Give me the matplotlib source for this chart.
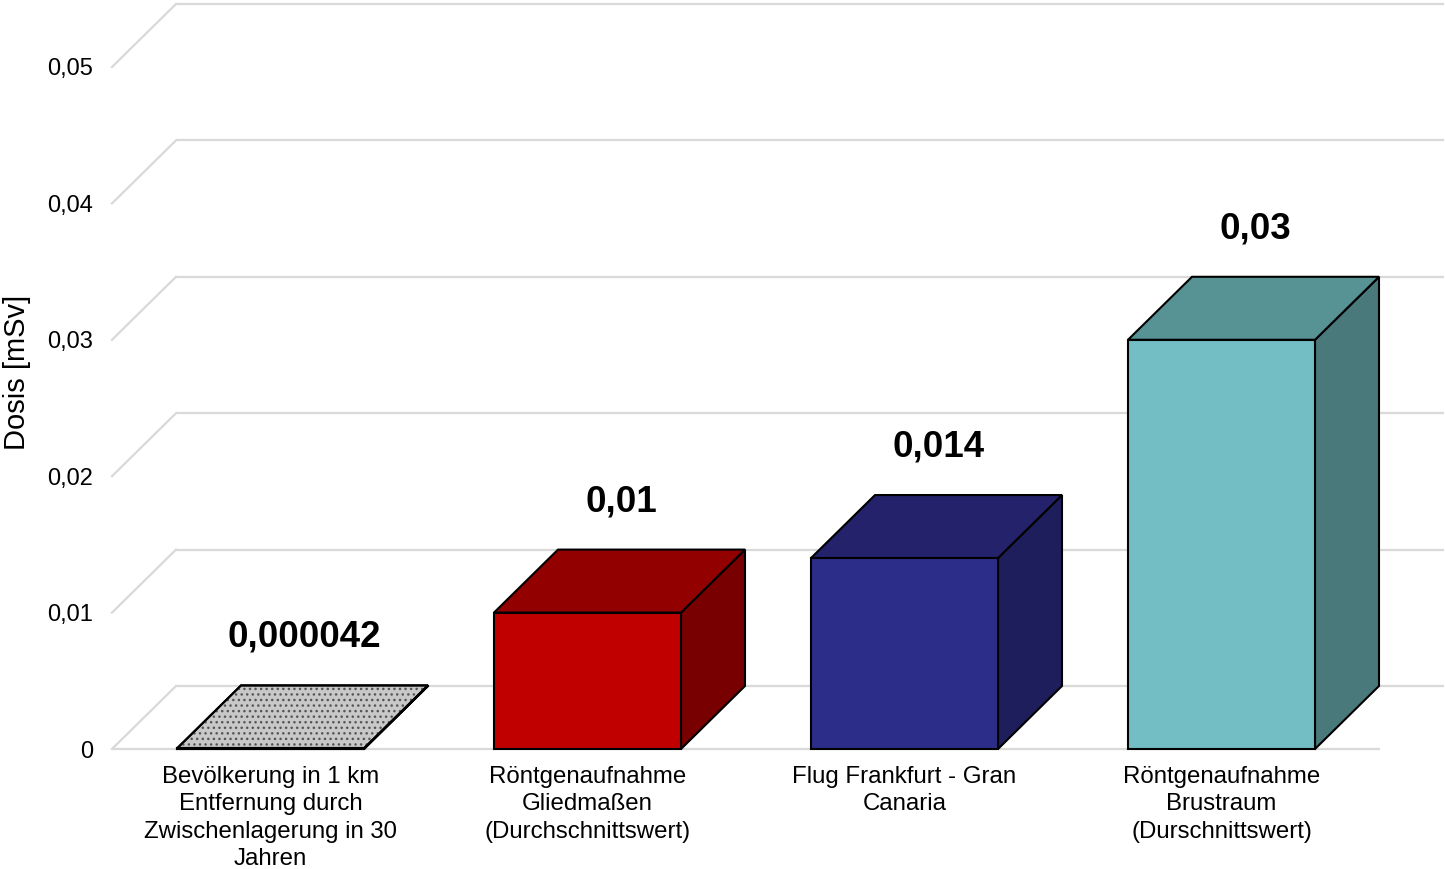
import matplotlib
matplotlib.use("Agg")
import matplotlib.pyplot as plt
from matplotlib.patches import Polygon

plt.rcParams['font.family'] = ['Liberation Sans', 'DejaVu Sans']

# Data
categories = [
    "Bevölkerung in 1 km\nEntfernung durch\nZwischenlagerung in 30\nJahren",
    "Röntgenaufnahme\nGliedmaßen\n(Durchschnittswert)",
    "Flug Frankfurt - Gran\nCanaria",
    "Röntgenaufnahme\nBrustraum\n(Durschnittswert)",
]
values = [0.000042, 0.01, 0.014, 0.03]
value_labels = ["0,000042", "0,01", "0,014", "0,03"]
y_ticks = [0, 0.01, 0.02, 0.03, 0.04, 0.05]
y_tick_labels = ["0", "0,01", "0,02", "0,03", "0,04", "0,05"]

# Face colours: front, top, side
face_colors = [
    ("#c8c8c8", "#c8c8c8", "#9a9a9a"),
    ("#c00000", "#930000", "#780000"),
    ("#2c2d88", "#23226a", "#1f1e5c"),
    ("#72bec4", "#579294", "#4a797b"),
]
hatched = [True, False, False, False]

W, H, DPI = 14.45, 8.69, 100
fig = plt.figure(figsize=(W, H), dpi=DPI)
ax = fig.add_axes([112 / 1445, 1 - 749 / 869, (1380 - 112) / 1445, (749 - 67) / 869])
ax.set_xlim(-0.5, len(categories) - 0.5)
ax.set_ylim(0, 0.05)
for s in ax.spines.values():
    s.set_visible(False)

# depth of the 3-D effect in pixels, converted to data units
depth_px = (64, 63)
x_per_px = (len(categories)) / ((1380 - 112))
y_per_px = 0.05 / (749 - 67)
ddx = depth_px[0] * x_per_px
ddy = depth_px[1] * y_per_px

grid_col = "#d9d9d9"
x_lo, x_hi = -0.5, len(categories) - 0.5
# back wall gridlines and left wall diagonals
for t in y_ticks:
    ax.plot([x_lo + ddx, x_hi + ddx], [t + ddy, t + ddy], color=grid_col, lw=1.6,
            clip_on=False, zorder=1, solid_capstyle='butt')
    ax.plot([x_lo, x_lo + ddx], [t, t + ddy], color=grid_col, lw=1.6,
            clip_on=False, zorder=1)
# front edge of the floor
ax.plot([x_lo, x_hi], [0, 0], color=grid_col, lw=1.6, clip_on=False, zorder=1,
        solid_capstyle='butt')

bar_w = 187 / 317
for i, (v, (cf, ct, cs), hat) in enumerate(zip(values, face_colors, hatched)):
    x0, x1 = i - bar_w / 2, i + bar_w / 2
    front = [(x0, 0), (x1, 0), (x1, v), (x0, v)]
    top = [(x0, v), (x1, v), (x1 + ddx, v + ddy), (x0 + ddx, v + ddy)]
    side = [(x1, 0), (x1 + ddx, ddy), (x1 + ddx, v + ddy), (x1, v)]
    for verts, col in ((side, cs), (top, ct), (front, cf)):
        ax.add_patch(Polygon(verts, closed=True, facecolor=col, edgecolor="black",
                             lw=1.5, joinstyle='miter', zorder=3, clip_on=False))
        if hat:
            ax.add_patch(Polygon(verts, closed=True, facecolor="none",
                                 edgecolor="#555555", lw=0, hatch="...",
                                 zorder=3.5, clip_on=False))
            ax.add_patch(Polygon(verts, closed=True, facecolor="none",
                                 edgecolor="black", lw=1.5, joinstyle='miter',
                                 zorder=3.6, clip_on=False))
    ax.text(i + 34 * x_per_px, v + 111 * y_per_px, value_labels[i],
            ha="center", va="center", fontsize=26.5, fontweight="bold", zorder=5)

ax.set_yticks(y_ticks)
ax.set_yticklabels(y_tick_labels, fontsize=17)
ax.set_xticks(range(len(categories)))
ax.set_xticklabels(categories, fontsize=17.3, linespacing=1.32)
ax.tick_params(axis="y", length=0, pad=13.5)
ax.tick_params(axis="x", length=0, pad=12)
ax.patch.set_visible(False)

fig.text(17 / 1445, 1 - 372 / 869, "Dosis [mSv]", rotation=90, ha="center",
         va="center", fontsize=21)

fig.savefig("out.png", dpi=DPI, facecolor="white")
